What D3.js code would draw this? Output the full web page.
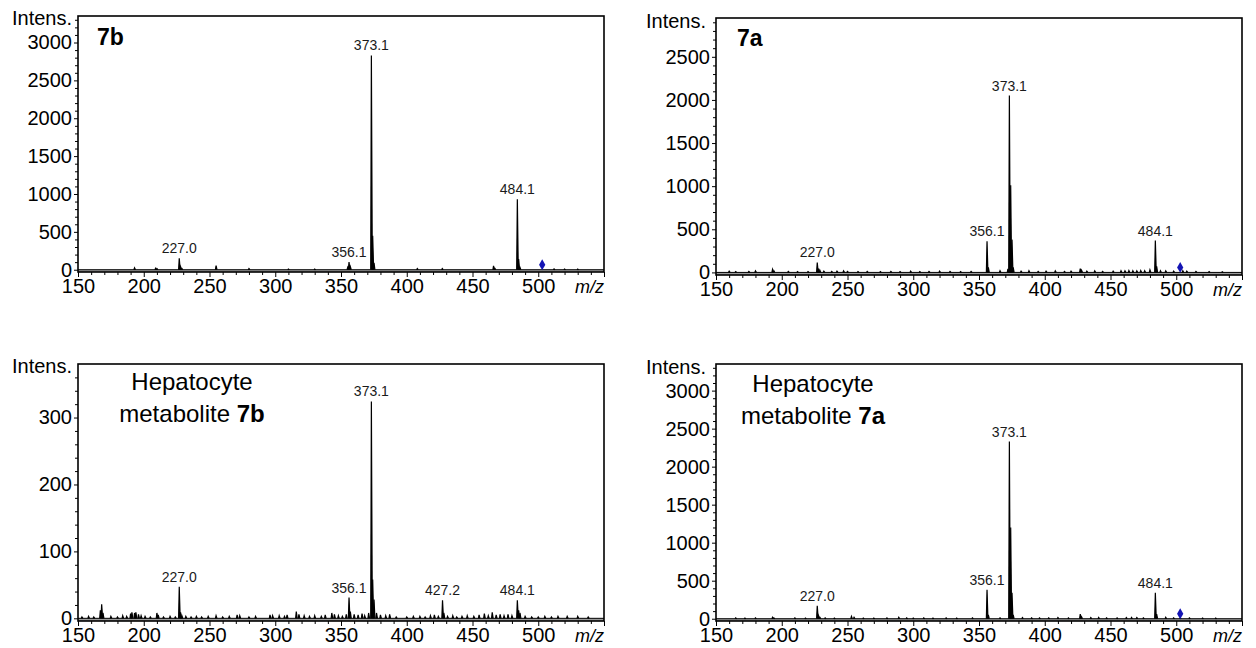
<!DOCTYPE html>
<html>
<head>
<meta charset="utf-8">
<script src="https://cdn.jsdelivr.net/npm/d3@7"></script>
<style>
  body { margin: 0; background: #fff; }
  svg { display: block; font-family: "Liberation Sans", Arial, sans-serif; }
  .tick text { font-size: 20px; fill: #000; }
  .domain { display: none; }
</style>
</head>
<body>
<svg id="chart" width="1256" height="648"></svg>
<script>
// x axis (m/z) ticks, shared by all four spectra
const mzTicks = [150, 200, 250, 300, 350, 400, 450, 500, 550];

// y axis ticks
const yTicks7b = [0, 500, 1000, 1500, 2000, 2500, 3000];
const yTicks7a = [0, 500, 1000, 1500, 2000, 2500];
const yTicksHep7b = [0, 100, 200, 300];
const yTicksHep7a = [0, 500, 1000, 1500, 2000, 2500, 3000];

// peaks [m/z, intensity]
const peaks7b = [
  [193, 25], [209, 20], [210, 15], [227.0, 150], [228.0, 40], [229.0, 18], [255, 55],
  [280, 15], [310, 10], [330, 8], [355.1, 30], [356.1, 100], [357.1, 40],
  [373.1, 2830], [374.1, 450], [375.1, 90], [408, 15], [427, 15], [466, 50], [467, 20],
  [484.1, 930], [485.1, 140], [486.1, 30], [512, 12], [520, 10], [530, 8]
];
const peaks7a = [
  [160, 15], [165, 10], [175, 12], [180, 18], [193, 35], [194, 20], [205, 12], [212, 10],
  [220, 10], [227.0, 115], [228.0, 45], [229, 25], [232, 15], [238, 12], [242, 15], [247, 18],
  [250, 12], [258, 10], [265, 12], [275, 10], [283, 12], [290, 10], [298, 14], [305, 10],
  [312, 12], [320, 15], [328, 12], [336, 10], [344, 12], [356.1, 360], [357.1, 60], [366, 20],
  [372, 40], [373.1, 2050], [374.1, 1010], [375.1, 380], [376, 60], [382, 15], [388, 20],
  [395, 12], [401, 15], [408, 18], [415, 12], [420, 15], [427, 45], [428, 25], [432, 15],
  [438, 18], [444, 12], [452, 15], [458, 20], [461, 18], [464, 22], [467, 20], [470, 18],
  [473, 22], [476, 20], [480, 30], [484.1, 370], [485.1, 70], [488, 20], [492, 18], [498, 15],
  [505, 20], [508, 15], [515, 12], [525, 10], [535, 8]
];
const peaksHep7b = [
  [153, 2], [158, 3], [162, 2], [167, 12], [168, 21], [169, 8], [175, 3], [180, 2], [184, 4],
  [187, 3], [190, 7], [191, 9], [193, 8], [194, 9], [196, 6], [198, 4], [201, 3], [205, 2],
  [210, 8], [211, 5], [215, 2], [220, 3], [224, 2], [227.0, 47], [228.0, 9], [229, 4], [232, 3],
  [236, 2], [240, 3], [244, 2], [249, 3], [255, 4], [260, 2], [265, 3], [271, 5], [273, 4],
  [280, 2], [285, 3], [296, 5], [298, 4], [303, 4], [307, 3], [309, 5], [316, 10], [318, 6],
  [322, 4], [326, 3], [330, 4], [335, 3], [338, 5], [343, 8], [345, 6], [348, 4], [351, 3],
  [354, 6], [356.1, 31], [357.1, 10], [360, 6], [363, 5], [366, 7], [368, 4], [371, 8],
  [373.1, 324], [374.1, 58], [375.1, 28], [377, 8], [380, 5], [384, 4], [387, 6], [392, 2],
  [400, 2], [405, 3], [410, 3], [414, 2], [418, 4], [421, 5], [424, 3], [427.2, 27], [428.2, 8],
  [431, 3], [435, 4], [438, 2], [442, 3], [446, 4], [451, 3], [455, 5], [459, 7], [462, 4],
  [465, 9], [468, 5], [471, 6], [474, 4], [477, 6], [480, 4], [484.1, 27], [485.1, 12],
  [486.1, 8], [490, 3], [495, 2], [500, 2], [505, 3], [510, 2], [515, 3], [522, 3], [530, 3],
  [538, 2]
];
const peaksHep7a = [
  [165, 10], [172, 8], [180, 10], [193, 20], [194, 12], [210, 10], [218, 8], [227.0, 170],
  [228.0, 40], [229, 20], [233, 10], [240, 8], [253, 30], [255, 20], [262, 8], [270, 8],
  [280, 10], [289, 20], [295, 10], [300, 8], [308, 10], [315, 8], [325, 10], [333, 8],
  [345, 10], [356.1, 380], [357.1, 50], [366, 12], [373.1, 2330], [374.1, 1200], [375.1, 340],
  [376, 50], [383, 15], [390, 12], [396, 10], [403, 12], [410, 15], [418, 10], [427, 60],
  [428, 25], [435, 15], [441, 18], [447, 12], [455, 10], [462, 15], [466, 18], [470, 15],
  [475, 12], [484.1, 340], [485.1, 60], [492, 20], [498, 12], [503, 10], [510, 10], [520, 8],
  [530, 8]
];

// labelled peaks
const labels7b = [227.0, 356.1, 373.1, 484.1];
const labels7a = [227.0, 356.1, 373.1, 484.1];
const labelsHep7b = [227.0, 356.1, 373.1, 427.2, 484.1];
const labelsHep7a = [227.0, 356.1, 373.1, 484.1];

// precursor marker (blue diamond)
const precursorMz = 503;

const svg = d3.select("#chart");

// panel layout
const panels = [
  { box: { x: 78, y: 16, w: 526, h: 256 }, yDomain: [-30, 3350], yTicks: yTicks7b, minor: 100,
    peaks: peaks7b, labels: labels7b, marker: true, title: ["", "7b"], titleAt: [97, 45], anchor: "start",
    intensAt: [72, 25] },
  { box: { x: 716, y: 18, w: 526, h: 257 }, yDomain: [-30, 2950], yTicks: yTicks7a, minor: 100,
    peaks: peaks7a, labels: labels7a, marker: true, title: ["", "7a"], titleAt: [737, 46], anchor: "start",
    intensAt: [706, 28] },
  { box: { x: 78, y: 364, w: 526, h: 257 }, yDomain: [-4, 380], yTicks: yTicksHep7b, minor: 20,
    peaks: peaksHep7b, labels: labelsHep7b, marker: false, title: ["metabolite ", "7b"], titleAt: [192, 390], anchor: "middle",
    intensAt: [72, 373] },
  { box: { x: 716, y: 364, w: 526, h: 257 }, yDomain: [-30, 3350], yTicks: yTicksHep7a, minor: 100,
    peaks: peaksHep7a, labels: labelsHep7a, marker: true, title: ["metabolite ", "7a"], titleAt: [813, 392], anchor: "middle",
    intensAt: [706, 374] }
];

panels.forEach(drawPanel);

function drawPanel(p) {
  const b = p.box;
  const g = svg.append("g").attr("transform", `translate(${b.x},${b.y})`);

  const x = d3.scaleLinear().domain([150, 550]).range([0, b.w]);
  const y = d3.scaleLinear().domain(p.yDomain).range([b.h, 0]);

  // grey baseline band
  g.append("rect")
    .attr("x", 0).attr("y", y(0))
    .attr("width", b.w).attr("height", b.h - y(0))
    .attr("fill", "#9a9a9a");

  // spectrum, each peak drawn as a narrow profile
  const line = d3.line().x(d => x(d[0])).y(d => y(d[1]));
  g.append("path")
    .attr("d", line([[150, 0], [550, 0]]))
    .attr("stroke", "#000").attr("stroke-width", 1).attr("fill", "none");
  g.selectAll("path.peak")
    .data(p.peaks)
    .join("path")
    .attr("class", "peak")
    .attr("d", d => line([[d[0] - 0.5, 0], [d[0], d[1]], [d[0] + 0.7, 0]]))
    .attr("stroke", "#000")
    .attr("stroke-width", 1.2)
    .attr("fill", "#000");

  // peak labels
  g.selectAll("text.plabel")
    .data(p.labels)
    .join("text")
    .attr("class", "plabel")
    .attr("x", d => x(d))
    .attr("y", d => y(p.peaks.find(k => k[0] === d)[1]) - 5)
    .attr("text-anchor", "middle")
    .attr("font-size", 14)
    .attr("fill", "#1a1a1a")
    .text(d => d.toFixed(1));

  // precursor marker
  if (p.marker) {
    g.append("path")
      .attr("d", d3.symbol(d3.symbolDiamond, 34)())
      .attr("transform", `translate(${x(precursorMz)},${y(0) - 5})`)
      .attr("fill", "#1414b4");
  }

  // axes
  const minorX = d3.range(150, 551, 10).filter(v => v % 50 !== 0);
  g.append("g").attr("transform", `translate(0,${b.h})`)
    .call(d3.axisBottom(x).tickValues(minorX).tickSize(3).tickFormat(""));
  g.append("g").attr("transform", `translate(0,${b.h})`)
    .call(d3.axisBottom(x).tickValues(mzTicks).tickSize(5).tickPadding(2)
      .tickFormat(d => d === 550 ? "" : d));

  const minorY = d3.range(0, p.yDomain[1], p.minor).filter(v => !p.yTicks.includes(v));
  g.append("g")
    .call(d3.axisLeft(y).tickValues(minorY).tickSize(3).tickFormat(""));
  g.append("g")
    .call(d3.axisLeft(y).tickValues(p.yTicks).tickSize(4).tickPadding(2).tickFormat(d => d));

  // frame
  g.append("rect")
    .attr("width", b.w).attr("height", b.h)
    .attr("fill", "none").attr("stroke", "#000").attr("stroke-width", 1.6);

  // axis captions
  svg.append("text")
    .attr("x", p.intensAt[0]).attr("y", p.intensAt[1])
    .attr("text-anchor", "end").attr("font-size", 20)
    .text("Intens.");
  svg.append("text")
    .attr("x", b.x + b.w).attr("y", b.y + b.h + 21)
    .attr("text-anchor", "end").attr("font-size", 18).attr("font-style", "italic")
    .text("m/z");

  // panel title
  if (p.anchor === "middle") {
    svg.append("text")
      .attr("x", p.titleAt[0]).attr("y", p.titleAt[1])
      .attr("text-anchor", "middle").attr("font-size", 24)
      .text("Hepatocyte");
  }
  const t = svg.append("text")
    .attr("x", p.titleAt[0])
    .attr("y", p.anchor === "middle" ? p.titleAt[1] + 32 : p.titleAt[1])
    .attr("text-anchor", p.anchor)
    .attr("font-size", p.anchor === "middle" ? 24 : 23);
  if (p.title[0]) t.append("tspan").text(p.title[0]);
  t.append("tspan").attr("font-weight", "bold").text(p.title[1]);
}
</script>
</body>
</html>
